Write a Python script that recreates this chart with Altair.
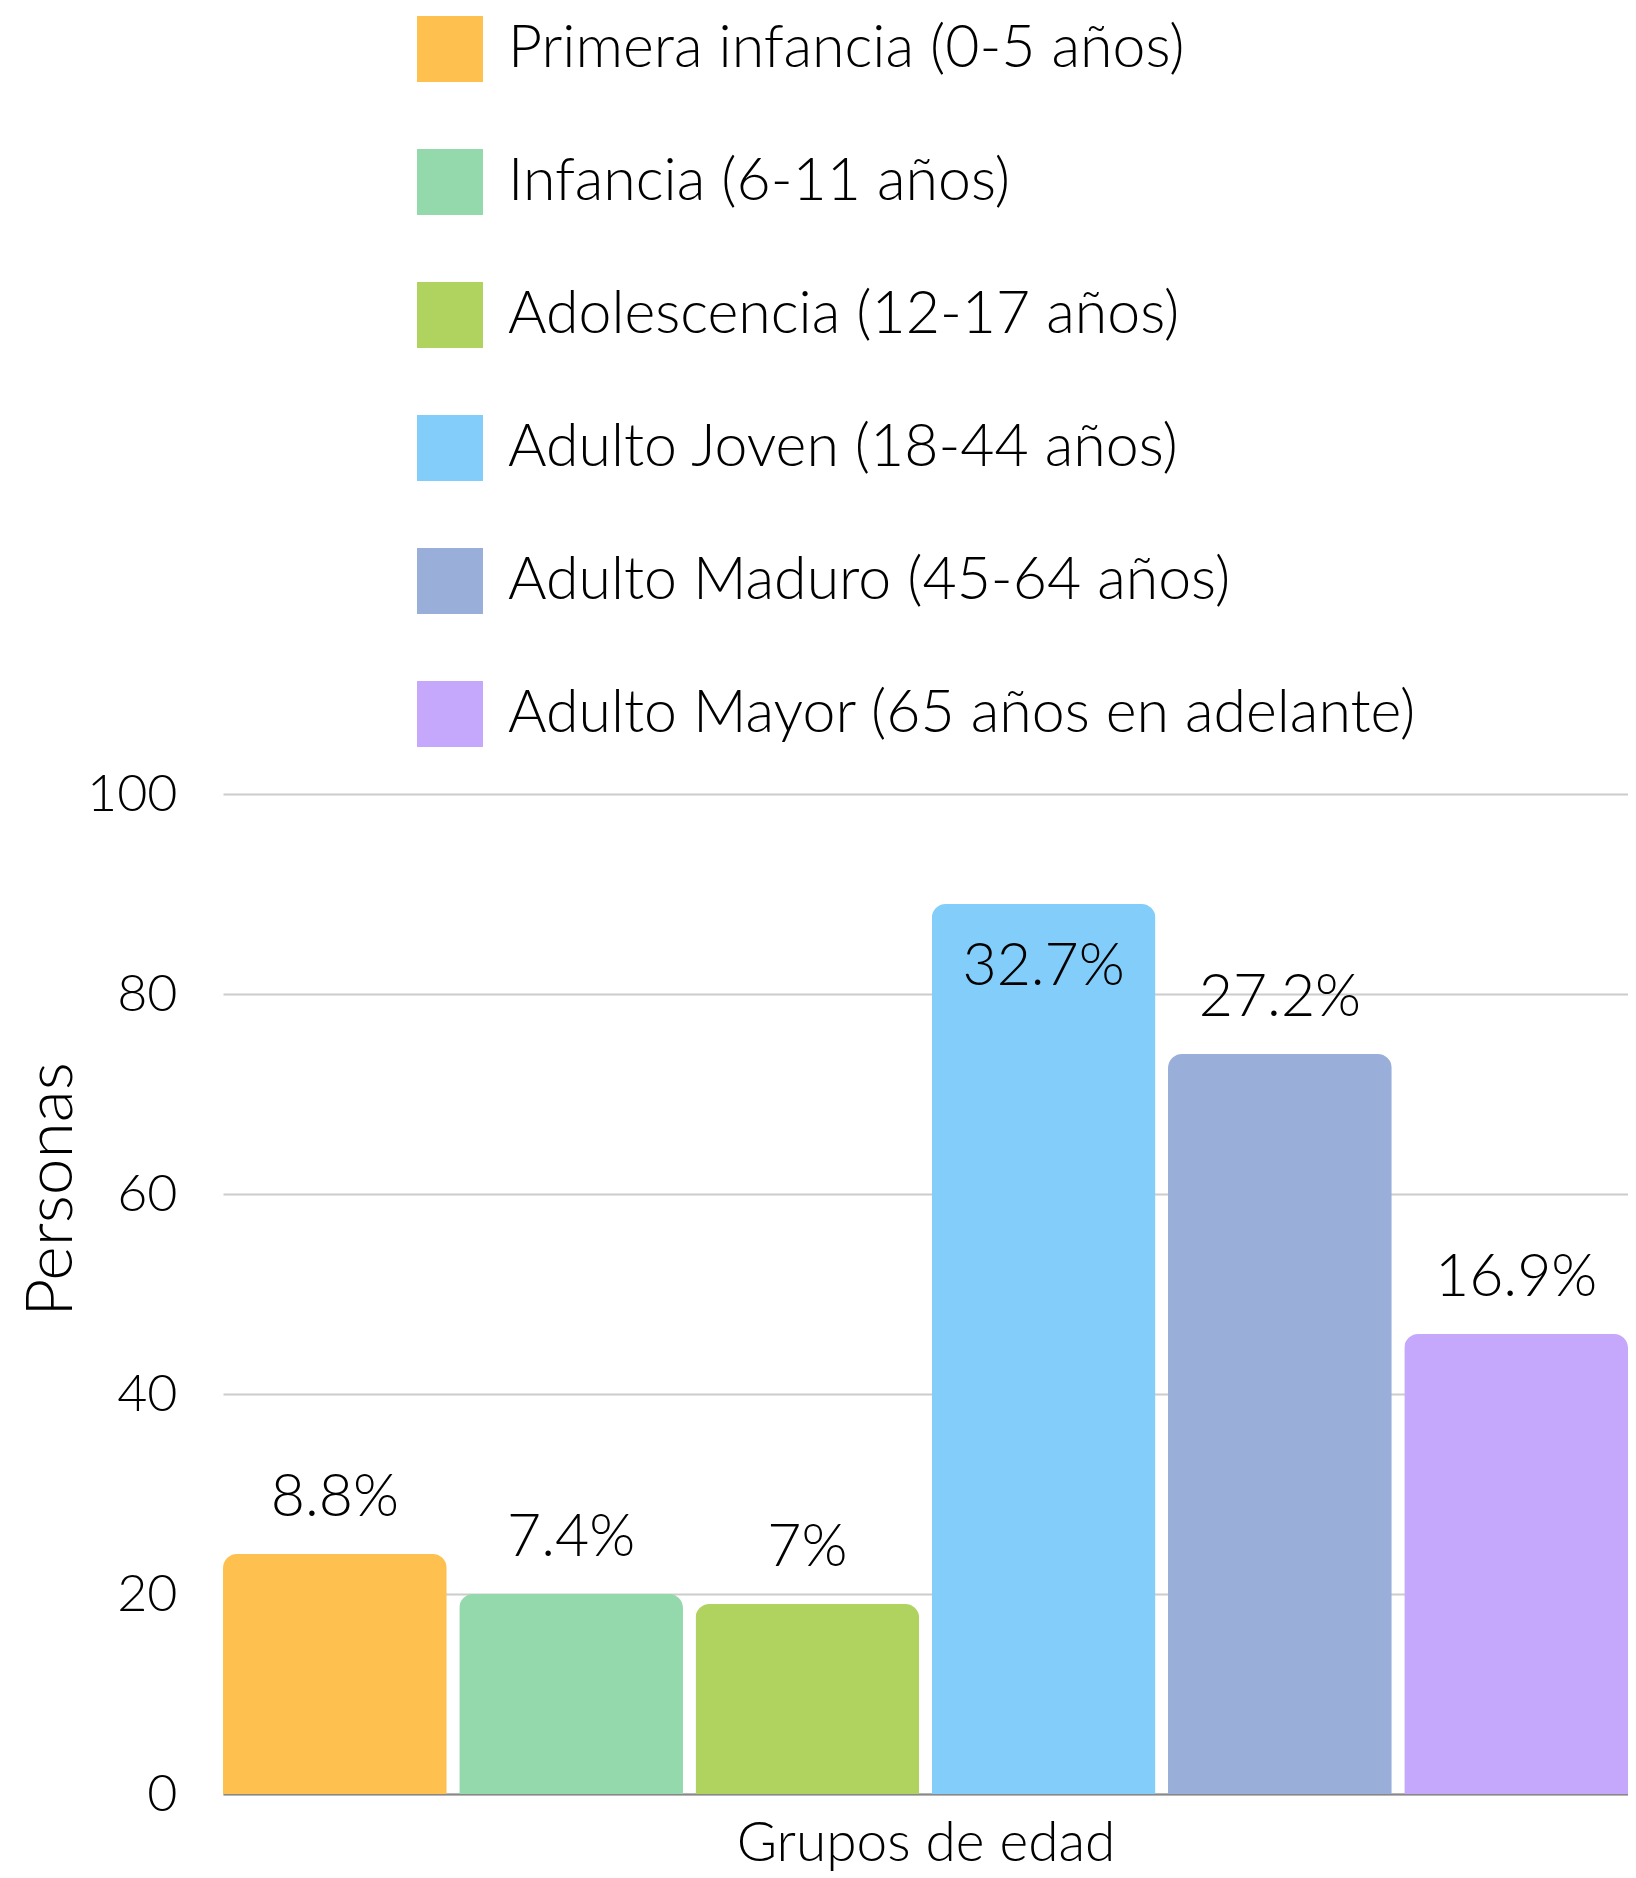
import altair as alt
import pandas as pd

groups = [
    "Primera infancia (0-5 años)",
    "Infancia (6-11 años)",
    "Adolescencia (12-17 años)",
    "Adulto Joven (18-44 años)",
    "Adulto Maduro (45-64 años)",
    "Adulto Mayor (65 años en adelante)",
]
personas = [24, 20, 19, 89, 74, 46]
labels = ["8.8%", "7.4%", "7%", "32.7%", "27.2%", "16.9%"]
colors = ["#FEC150", "#94D9AB", "#B0D360", "#82CDF9", "#99AFD9", "#C5A7FC"]
y_ticks = [0, 20, 40, 60, 80, 100]

df = pd.DataFrame({"grupo": groups, "personas": personas, "label": labels})

FONT = "Lato"
W = 300

x_enc = alt.X(
    "grupo:N",
    sort=groups,
    scale=alt.Scale(paddingInner=0.053, paddingOuter=0),
    axis=alt.Axis(
        labels=False, ticks=False, domain=True, domainColor="#888888", domainWidth=2,
        title="Grupos de edad", titleFontSize=55, titleFont=FONT, titleFontWeight=W,
        titleColor="#000000", titlePadding=23,
    ),
)
y_enc = alt.Y(
    "personas:Q",
    scale=alt.Scale(domain=[0, 100], nice=False),
    axis=alt.Axis(
        values=y_ticks, ticks=False, domain=False, grid=True, gridColor="#CCCCCC", gridWidth=2,
        labelFontSize=52, labelFont=FONT, labelFontWeight=W, labelColor="#000000", labelPadding=46,
        title="Personas", titleFontSize=66, titleFont=FONT, titleFontWeight=W,
        titleColor="#000000", titleAngle=-90, titleBaseline="alphabetic",
        titleX=-152, titleY=395, titleAlign="center",
    ),
)

bars = alt.Chart(df).mark_bar(cornerRadiusTopLeft=14, cornerRadiusTopRight=14).encode(
    x=x_enc,
    y=y_enc,
    color=alt.Color(
        "grupo:N",
        sort=groups,
        scale=alt.Scale(domain=groups, range=colors),
        legend=alt.Legend(
            title=None, orient="none", legendX=194, legendY=-778, direction="vertical",
            symbolType="square", symbolSize=4356, symbolStrokeWidth=0, symbolOpacity=1,
            labelFontSize=59, labelFont=FONT, labelFontWeight=W, labelColor="#000000", labelOffset=25,
            rowPadding=67, padding=0, labelLimit=1200,
        ),
    ),
)

text_above = alt.Chart(df).transform_filter("datum.personas <= 80").mark_text(
    fontSize=59, font=FONT, fontWeight=W, color="#000000", baseline="alphabetic", dy=-38
).encode(
    x=alt.X("grupo:N", sort=groups),
    y=alt.Y("personas:Q"),
    text="label:N",
)
text_inside = alt.Chart(df).transform_filter("datum.personas > 80").mark_text(
    fontSize=59, font=FONT, fontWeight=W, color="#000000", baseline="alphabetic", dy=81
).encode(
    x=alt.X("grupo:N", sort=groups),
    y=alt.Y("personas:Q"),
    text="label:N",
)

chart = (bars + text_above + text_inside).properties(
    width=1405,
    height=1000,
    autosize=alt.AutoSizeParams(type="none"),
    padding={"left": 215, "top": 786, "right": 0, "bottom": 78},
).configure_view(stroke=None)

chart.save("out.html", embed_options={"renderer": "svg", "actions": False})
